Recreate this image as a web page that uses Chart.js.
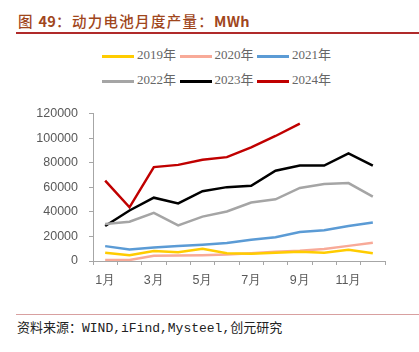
<!DOCTYPE html>
<html>
<head>
<meta charset="utf-8">
<script src="https://cdn.jsdelivr.net/npm/chart.js@4"></script>
<style>
  html, body { margin: 0; padding: 0; background: #fff; }
  body { width: 419px; height: 352px; position: relative; overflow: hidden; }
  .title {
    position: absolute; left: 18px; top: 10px;
    font-family: "Noto Sans CJK SC", sans-serif; font-weight: 500;
    font-size: 14.5px; letter-spacing: 1.3px; color: #a0461c; white-space: nowrap;
  }
  .title b { font-weight: bold; letter-spacing: 0.3px; }
  .rule-top { position: absolute; left: 16px; top: 32px; width: 403px; height: 2px; background: #b02a2a; }
  .legend { position: absolute; left: 0; width: 419px; font-family: "Liberation Serif", "Noto Sans CJK SC", serif; font-size: 13px; color: #666; }
  .item { position: absolute; white-space: nowrap; }
  .item i { position: absolute; top: 0; width: 32px; height: 3px; }
  .item span { position: absolute; left: 35px; top: -9px; line-height: 18px; }
  #wrap { position: absolute; left: 0; top: 95px; width: 419px; height: 200px; }
  .rule-bot { position: absolute; left: 16px; top: 314px; width: 403px; height: 1px; background: #d8a0a0; }
  .source {
    position: absolute; left: 17px; top: 317px;
    font-family: "Liberation Mono", "Noto Sans CJK SC", monospace;
    font-size: 13px; color: #222; white-space: nowrap;
  }
</style>
</head>
<body>
<div class="title">图 <b>49</b>：动力电池月度产量：<b>MWh</b></div>
<div class="rule-top"></div>
<div class="legend" id="legend"></div>
<div id="wrap"><canvas id="chart"></canvas></div>
<div class="rule-bot"></div>
<div class="source">资料来源：WIND,iFind,Mysteel,创元研究</div>
<script>
var months = ["1月", "2月", "3月", "4月", "5月", "6月", "7月", "8月", "9月", "10月", "11月", "12月"];
var seriesNames = ["2019年", "2020年", "2021年", "2022年", "2023年", "2024年"];
var seriesColors = ["#ffcc00", "#f8aa98", "#5b9bd5", "#a5a5a5", "#000000", "#c00000"];

var y2019 = [6800, 4700, 8100, 7100, 10000, 6300, 6000, 6800, 7600, 6800, 9200, 6300];
var y2020 = [800, 800, 4200, 4500, 4700, 5200, 6300, 7600, 8400, 9700, 12300, 14900];
var y2021 = [12100, 9400, 11000, 12300, 13300, 14700, 17300, 19400, 23500, 25100, 28500, 31400];
var y2022 = [30100, 31900, 39200, 29000, 36100, 40300, 47600, 50200, 59400, 62700, 63400, 52300];
var y2023 = [28500, 41100, 51500, 46800, 56800, 60100, 61200, 73500, 77600, 77600, 87600, 77600];
var y2024 = [65400, 43700, 76400, 78200, 82400, 84500, 92500, 101700, 111700, null, null, null];

var yTicks = [0, 20000, 40000, 60000, 80000, 100000, 120000];

var allSeries = [y2019, y2020, y2021, y2022, y2023, y2024];

// legend: two rows of three, as in the original
var legend = document.getElementById("legend");
for (var i = 0; i < seriesNames.length; i++) {
  var row = Math.floor(i / 3), col = i % 3;
  var el = document.createElement("div");
  el.className = "item";
  el.style.left = (102 + col * 77.5) + "px";
  el.style.top = (54.5 + row * 25) + "px";
  el.innerHTML = '<i style="background:' + seriesColors[i] + '"></i><span>' + seriesNames[i] + '</span>';
  legend.appendChild(el);
}

var datasets = [];
for (var i = 0; i < allSeries.length; i++) {
  datasets.push({
    label: seriesNames[i],
    data: allSeries[i],
    borderColor: seriesColors[i],
    backgroundColor: seriesColors[i],
    borderWidth: 2.5,
    pointRadius: 0,
    tension: 0,
    spanGaps: false
  });
}

var axisGray = "#a6a6a6";
var tickFont = { family: "'Liberation Sans', Arial, sans-serif", size: 12.5 };

new Chart(document.getElementById("chart"), {
  type: 'line',
  data: { labels: months, datasets: datasets },
  options: {
    responsive: true,
    maintainAspectRatio: false,
    animation: false,
    layout: { padding: { top: 13, right: 34, bottom: 0, left: 0 } },
    plugins: { legend: { display: false }, tooltip: { enabled: false } },
    scales: {
      x: {
        offset: true,
        grid: { offset: true, drawOnChartArea: false, color: axisGray, tickLength: 4 },
        border: { color: axisGray, width: 1 },
        ticks: {
          autoSkip: false, maxRotation: 0, padding: 8,
          color: "#595959", font: tickFont,
          callback: function(v, i) { return i % 2 === 0 ? months[i] : ''; }
        },
        afterFit: function(s) { s.height = 34; }
      },
      y: {
        min: 0, max: 120000,
        afterBuildTicks: function(s) { s.ticks = yTicks.map(function(v) { return { value: v }; }); },
        grid: { drawOnChartArea: false, color: axisGray, tickLength: 4 },
        border: { color: axisGray, width: 1 },
        ticks: {
          padding: 11, color: "#595959", font: tickFont,
          callback: function(v) { return String(v); }
        },
        afterFit: function(s) { s.width = 93; }
      }
    }
  }
});
</script>
</body>
</html>
